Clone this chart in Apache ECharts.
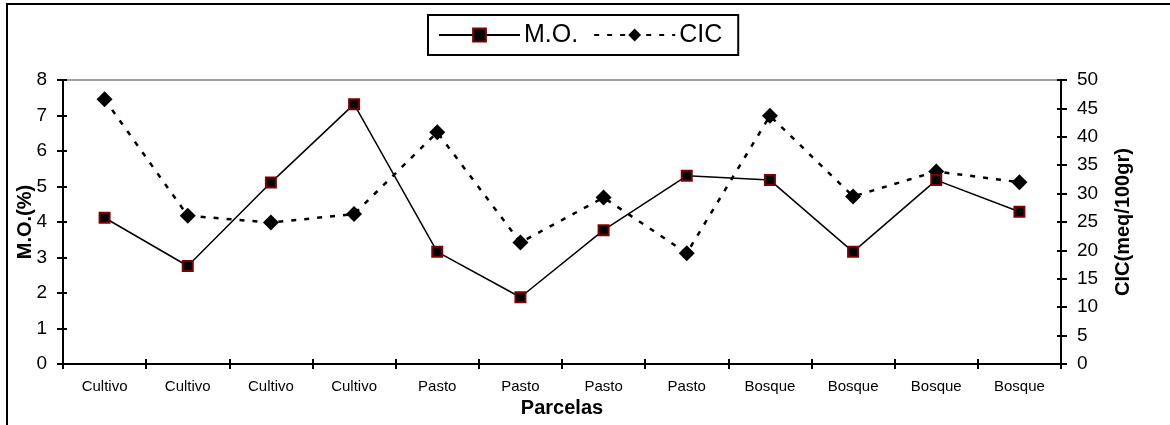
<!DOCTYPE html>
<html>
<head>
<meta charset="utf-8">
<script src="https://cdn.jsdelivr.net/npm/echarts@6/dist/echarts.min.js"></script>
<style>
  html, body { margin: 0; padding: 0; background: #fff; }
  #chart { width: 1170px; height: 425px; }
</style>
</head>
<body>
<div id="chart"></div>
<script>
  var parcelas = ['Cultivo', 'Cultivo', 'Cultivo', 'Cultivo', 'Pasto', 'Pasto', 'Pasto', 'Pasto', 'Bosque', 'Bosque', 'Bosque', 'Bosque']
  var materiaOrganica = [4.12, 2.76, 5.11, 7.32, 3.16, 1.88, 3.77, 5.30, 5.18, 3.16, 5.18, 4.29]
  var cic = [46.6, 26.1, 24.9, 26.4, 40.8, 21.4, 29.3, 19.5, 43.7, 29.5, 33.9, 32.0]

  var font = '"Liberation Sans", Arial, sans-serif'

  function valueAxis(pos, max, interval, inside, name, gap) {
    return {
      type: 'value',
      position: pos,
      min: 0,
      max: max,
      interval: interval,
      name: inside ? '' : name,
      nameLocation: 'middle',
      nameGap: gap,
      nameMoveOverlap: false,
      nameTextStyle: {color: '#000', fontSize: 20, fontWeight: 'bold', fontFamily: font},
      axisLine: {show: true, onZero: false, lineStyle: {color: '#000', width: 2}},
      axisTick: {show: true, inside: inside, length: inside ? 4 : 6, lineStyle: {color: '#000', width: 2}},
      axisLabel: {show: !inside, margin: 16, color: '#000', fontSize: 19, fontFamily: font},
      splitLine: {show: false}
    }
  }

  function catAxis(pos, inside, showStuff) {
    return {
      type: 'category',
      position: pos,
      data: parcelas,
      boundaryGap: true,
      name: showStuff ? 'Parcelas' : '',
      nameLocation: 'middle',
      nameGap: 34,
      nameMoveOverlap: false,
      nameTextStyle: {color: '#000', fontSize: 20, fontWeight: 'bold', fontFamily: font},
      axisLine: {show: true, onZero: false, lineStyle: {color: '#000', width: 2}},
      axisTick: {show: true, inside: inside, length: 5, lineStyle: {color: '#000', width: 2}},
      axisLabel: {show: showStuff, margin: 15, color: '#000', fontSize: 15, fontFamily: font},
      splitLine: {show: false}
    }
  }

  var topAxis = {
    type: 'category',
    position: 'top',
    data: parcelas,
    axisLine: {show: true, onZero: false, lineStyle: {color: '#808080', width: 1.5}},
    axisTick: {show: false},
    axisLabel: {show: false}
  }

  var chart = echarts.init(document.getElementById('chart'))
  chart.setOption({
    animation: false,
    backgroundColor: '#fff',
    textStyle: {fontFamily: font},
    graphic: [{
      type: 'rect',
      shape: {x: 7, y: 4, width: 1200, height: 460},
      style: {fill: 'none', stroke: '#000', lineWidth: 2},
      z: -1
    }],
    legend: {
      left: 428,
      top: 15,
      data: ['M.O.', 'CIC'],
      itemWidth: 81,
      itemHeight: 16,
      itemGap: 15,
      padding: [7, 16, 7, 10],
      borderColor: '#000',
      borderWidth: 2,
      textStyle: {color: '#000', fontSize: 25, lineHeight: 26, fontFamily: font, padding: [0, 0, 0, -1]}
    },
    grid: {left: 63, right: 109, top: 80, bottom: 61, outerBoundsMode: 'none'},
    xAxis: [catAxis('bottom', false, true), catAxis('bottom', true, false), topAxis],
    yAxis: [
      valueAxis('left', 8, 1, false, 'M.O.(%)', 28),
      valueAxis('right', 50, 5, false, 'CIC(meq/100gr)', 52),
      valueAxis('left', 8, 1, true, '', 0),
      valueAxis('right', 50, 5, true, '', 0)
    ],
    series: [
      {
        name: 'CIC',
        type: 'line',
        xAxisIndex: 0,
        yAxisIndex: 1,
        data: cic,
        symbol: 'diamond',
        symbolSize: [16, 16],
        lineStyle: {color: '#000', width: 2.5, type: [5, 8]},
        itemStyle: {color: '#000'},
        emphasis: {disabled: true}
      },
      {
        name: 'M.O.',
        type: 'line',
        xAxisIndex: 0,
        yAxisIndex: 0,
        data: materiaOrganica,
        symbol: 'rect',
        symbolSize: 10,
        lineStyle: {color: '#000', width: 1.5},
        itemStyle: {color: '#000', borderColor: '#800000', borderWidth: 2},
        emphasis: {disabled: true}
      }
    ]
  })
</script>
</body>
</html>
